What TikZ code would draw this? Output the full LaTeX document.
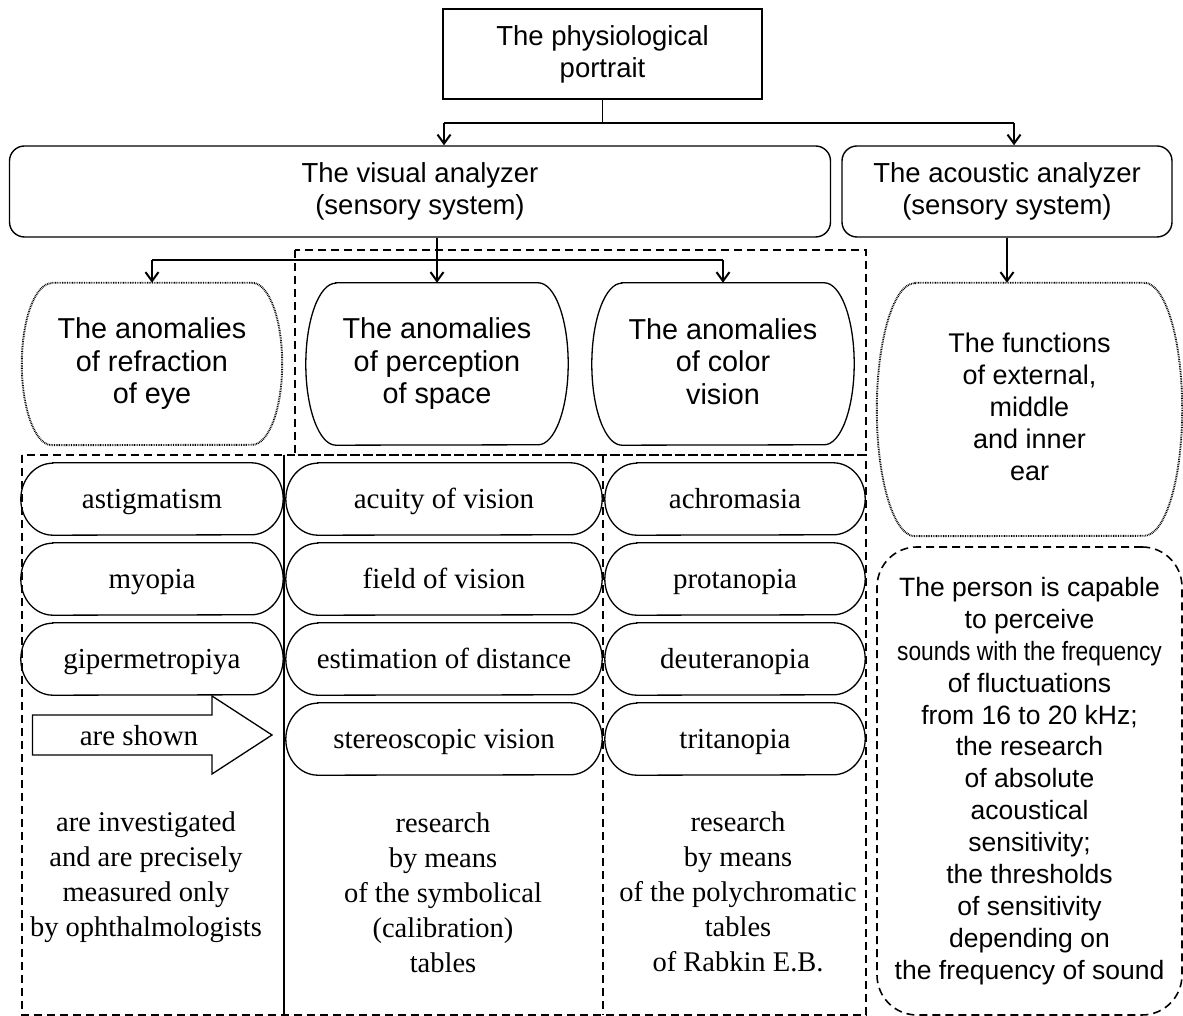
\documentclass[tikz,border=0pt]{standalone}
\usepackage{fontspec}
\setmainfont{Liberation Serif}
\newfontfamily\arialf{Liberation Sans}
\usepackage{graphicx}
\usetikzlibrary{calc,arrows.meta}

% line strut, weighted towards the ascender so text sits a little lower
\newcommand\tstrut{\rule[-0.15\baselineskip]{0pt}{0.85\baselineskip}}

% horizontal barrel / pill outline around a node: flat top and bottom,
% half-elliptic sides of horizontal radius #3 and vertical radius #4 (half height)
\newcommand\barrelpath[4]{%
  \draw[#1] ($(#2.north west)+(#3pt,0pt)$) -- ($(#2.north east)+(-#3pt,0pt)$)
    arc[start angle=90, end angle=-90, x radius=#3pt, y radius=#4pt]
    -- ($(#2.south west)+(#3pt,0pt)$)
    arc[start angle=270, end angle=90, x radius=#3pt, y radius=#4pt] -- cycle;
}

\tikzset{
  struts/.style={execute at begin node=\tstrut, execute at end node=\tstrut},
  sfbig/.style={font=\arialf\fontsize{27.5}{32}\selectfont, align=center, struts},
  sfmid/.style={font=\arialf\fontsize{28.8}{32.5}\selectfont, align=center, struts},
  sfsmall/.style={font=\arialf\fontsize{27}{32}\selectfont, align=center, struts},
  sfperson/.style={font=\arialf\fontsize{26.5}{31.9}\selectfont, align=center, struts},
  rmpill/.style={font=\fontsize{29}{35}\selectfont, text height=23pt, text depth=4pt},
  rmtext/.style={font=\fontsize{28.5}{35}\selectfont, align=center, struts},
  holder/.style={inner sep=0pt, minimum width=#1},
  boxline/.style={line width=1.4pt},
  thinline/.style={line width=1.3pt},
  arr/.style={line width=1.9pt, -{Straight Barb[length=9pt, width=13pt, line width=2pt]}},
  dotline/.style={line width=1.9pt, dash pattern=on 0.8pt off 0.9pt},
  dashline/.style={line width=1.6pt, dash pattern=on 8pt off 5pt},
  solidline/.style={line width=1.3pt},
}

\begin{document}
\begin{tikzpicture}[x=1pt, y=1pt]
\useasboundingbox (0,0) rectangle (1183,1016);

% ---- top level ----
\node[sfbig, draw, boxline, minimum width=319pt, minimum height=90pt, inner sep=0pt]
  (phys) at (602.5,962) {The physiological\\portrait};
\node[sfbig, draw, boxline, rounded corners=15pt, minimum width=821pt, minimum height=91pt, inner sep=0pt]
  (vis) at (420,824.5) {The visual analyzer\\(sensory system)};
\node[sfbig, draw, boxline, rounded corners=15pt, minimum width=330pt, minimum height=91pt, inner sep=0pt]
  (aco) at (1007,824.5) {The acoustic analyzer\\(sensory system)};

\coordinate (jt) at (602.5,893);
\coordinate (jl) at (444,893);
\coordinate (jr) at (1014,893);
\draw[thinline] (phys.south) -- (jt);
\draw[thinline] (jl) -- (jr);
\draw[arr] (jl) -- (jl |- vis.north);
\draw[arr] (jr) -- (jr |- aco.north);

% ---- second level ----
\node[sfmid, holder=260pt, minimum height=162pt] (refr) at (152,652)
  {The anomalies\\of refraction\\of eye};
\node[sfmid, holder=262pt, minimum height=162pt] (perc) at (437,652)
  {The anomalies\\of perception\\of space};
\node[sfmid, holder=262pt, minimum height=162pt] (colr) at (723,652)
  {The anomalies\\of color\\vision};
\node[sfsmall, holder=305pt, minimum height=253pt] (func) at (1029.5,606.5)
  {The functions\\of external,\\middle\\and inner\\ear};

\barrelpath{dotline}{refr}{30}{81}
\barrelpath{solidline}{perc}{30}{81}
\barrelpath{solidline}{colr}{30}{81}
\barrelpath{dotline}{func}{38}{126.5}

\coordinate (jv) at (437,756);
\draw[thinline] (vis.south -| jv) -- (jv);
\draw[thinline] (refr.north |- jv) -- (colr.north |- jv);
\draw[arr] (refr.north |- jv) -- (refr.north);
\draw[arr] (jv) -- (perc.north);
\draw[arr] (colr.north |- jv) -- (colr.north);

\draw[thinline] (aco.south) -- ++(0,-23) coordinate (ja);
\draw[arr] (ja) -- (ja |- func.north);

% ---- frames ----
\draw[dashline] (295,766) rectangle (866,561);
\draw[dashline] (22,561) rectangle (866,1);
\draw[line width=1.5pt] (284,561) -- (284,1);
\draw[dashline] (603,561) -- (603,1);

% ---- pills ----
\node[rmpill, holder=262pt, minimum height=72pt] (p11) at (152,517) {astigmatism};
\node[rmpill, holder=262pt, minimum height=72pt] (p12) at (152,437) {myopia};
\node[rmpill, holder=262pt, minimum height=72pt] (p13) at (152,357) {gipermetropiya};
\node[rmpill, holder=316pt, minimum height=72pt] (p21) at (444,517) {acuity of vision};
\node[rmpill, holder=316pt, minimum height=72pt] (p22) at (444,437) {field of vision};
\node[rmpill, holder=316pt, minimum height=72pt] (p23) at (444,357) {estimation of distance};
\node[rmpill, holder=316pt, minimum height=72pt] (p24) at (444,277) {stereoscopic vision};
\node[rmpill, holder=260pt, minimum height=72pt] (p31) at (735,517) {achromasia};
\node[rmpill, holder=260pt, minimum height=72pt] (p32) at (735,437) {protanopia};
\node[rmpill, holder=260pt, minimum height=72pt] (p33) at (735,357) {deuteranopia};
\node[rmpill, holder=260pt, minimum height=72pt] (p34) at (735,277) {tritanopia};
\foreach \p in {p11,p12,p13,p21,p22,p23,p24,p31,p32,p33,p34}{
  \barrelpath{solidline}{\p}{32}{36}
}

% block arrow
\draw[solidline] (32.5,301) -- (212,301) -- (212,320) -- (272,281) -- (212,242)
  -- (212,261) -- (32.5,261) -- cycle;
\node[rmpill, inner sep=0pt] (shown) at (139,280) {are shown};

% ---- bottom texts ----
\node[rmtext] (t1) at (146,138.5)
  {are investigated\\and are precisely\\measured only\\by ophthalmologists};
\node[rmtext] (t2) at (443,121)
  {research\\by means\\of the symbolical\\(calibration)\\tables};
\node[rmtext] (t3) at (738,122)
  {research\\by means\\of the polychromatic\\tables\\of Rabkin E.B.};

\node[sfperson, draw, dashline, rounded corners=40pt, minimum width=305pt,
  minimum height=468pt, inner sep=0pt] (person) at (1029.5,235)
  {The person is capable\\to perceive\\\scalebox{0.86}[1]{sounds with the frequency}\\of fluctuations\\from 16 to 20 kHz;\\the research\\of absolute\\acoustical\\sensitivity;\\the thresholds\\of sensitivity\\depending on\\the frequency of sound};

\end{tikzpicture}
\end{document}
